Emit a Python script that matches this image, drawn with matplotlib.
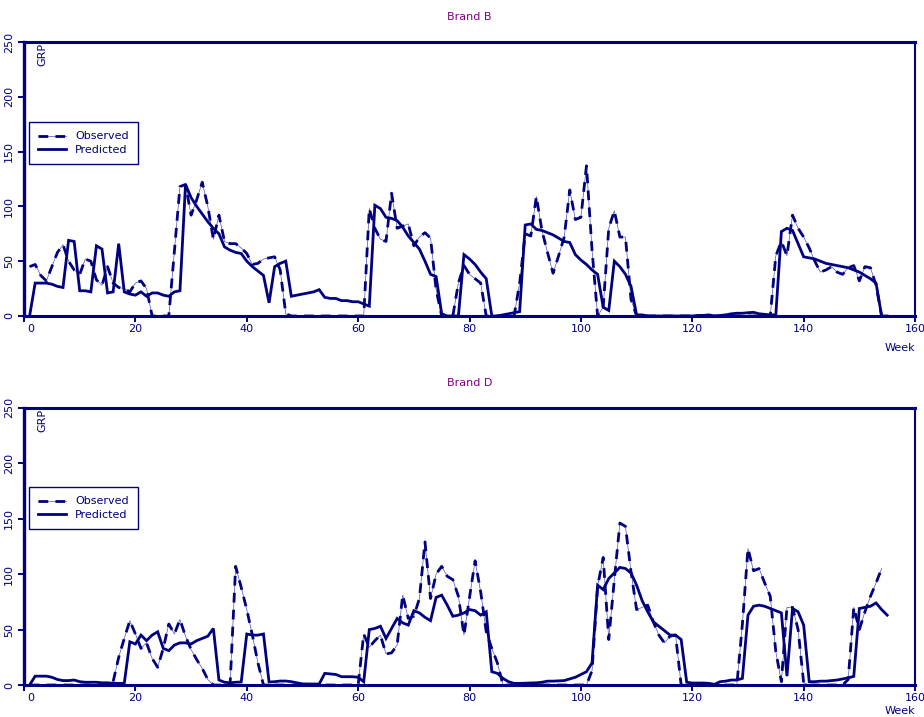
import numpy as np
import matplotlib
matplotlib.use("Agg")
import matplotlib.pyplot as plt
import matplotlib.transforms as mtransforms
from matplotlib.lines import Line2D

# ── Data: weekly GRP, weeks 1..155 ─────────────────────────────────────────
weeks = list(range(1, 156))
nan = float("nan")

brand_b_pred = [
    0, 30, 30, 30, 29, 27, 26, 69, 68, 23,
    23, 22, 64, 61, 21, 22, 66, 22, 20, 19,
    22, 18, 21, 21, 19, 18, 22, 23, 120, 108,
    100, 93, 86, 80, 75, 63, 60, 58, 57, 50,
    45, 41, 37, 12, 45, 48, 50, 18, 19, 20,
    21, 22, 24, 17, 16, 16, 14, 14, 13, 13,
    11, 9, 101, 98, 90, 89, 87, 81, 73, 67,
    61, 50, 38, 36, 2, 0, 0, 0, 56, 52,
    47, 40, 34, 0, 0, 1, 2, 3, 4, 83,
    84, 79, 78, 76, 74, 71, 68, 67, 56, 51,
    47, 42, 38, 8, 5, 50, 45, 38, 27, 1,
    1, 0, 0, 0, 0, 0, 0, 0, 0, 0,
    0.5, 0.5, 1, 0, 0.5, 1, 2, 2.5, 2.5, 3,
    3.3, 2, 1.5, 1, 1, 77, 80, 78, 66, 54,
    53, 52, 50, 48, 47, 46, 45, 44, 42, 40,
    37, 34, 30, 0, 0,
]
brand_b_obs = [
    45, 47, 37, 32, 45, 58, 65, 50, 42, 38,
    52, 50, 33, 28, 45, 30, 26, 25, 22, 30,
    32, 25, 0, 0, 0, 0, 59, 118, 120, 92,
    106, 122, 100, 70, 92, 68, 66, 66, 62, 57,
    47, 48, 52, 53, 54, 42, 2, 0, 0, 0,
    0, 0, 0, 0, 0, 0, 0, 0, 0, 0,
    0, 98, 80, 70, 68, 112, 80, 82, 84, 64,
    72, 76, 71, 24, 0, 0, 0, 30, 46, 38,
    34, 30, 0, 0, 0, 0, 0, 0, 30, 75,
    73, 109, 78, 58, 39, 55, 72, 115, 88, 90,
    137, 60, 0, 8, 80, 96, 72, 72, 15, 0,
    0, 0, 0, 0, 0, 0, 0, 0, 0, 0,
    0, 0, 0, 0, 0, 0, 0, 0, 0, 0,
    0, 0, 0, 0, 55, 68, 55, 92, 80, 72,
    62, 50, 40, 42, 45, 40, 38, 44, 46, 32,
    45, 44, 28, 0, nan,
]
brand_d_pred = [
    0, 8, 8, 8, 7, 5, 4, 4, 4.5, 3,
    2.5, 2.5, 2.5, 2, 2, 1.5, 1.5, 1.5, 39, 37,
    45, 40, 45, 48, 33, 31, 36, 38, 38, 37,
    40, 42, 44, 51, 4.5, 2.5, 2, 2.5, 2.7, 46,
    45, 45, 46, 2.7, 3, 3.6, 3.6, 3, 2, 1,
    0.9, 0.9, 0.9, 10.5, 10, 9.5, 7.5, 7.5, 7.5, 7,
    3, 50, 51, 53, 42, 51, 60, 56, 54, 67,
    65, 61, 58, 79, 81, 72, 62, 63, 65, 68,
    67, 63, 66, 12, 10.5, 6, 3, 1.5, 1.5, 1.7,
    1.9, 2, 2.5, 3.5, 3.5, 3.8, 4, 5.5, 7, 9.5,
    12, 20, 90, 86, 96, 101, 106, 105, 101, 90,
    76, 66, 57, 53, 49, 45, 45, 41, 2.5, 1.8,
    1.8, 1.8, 1.5, 0.6, 3, 3.5, 4.5, 4.5, 6, 63,
    71, 72, 71, 69, 67, 65, 8, 69, 66, 54,
    3, 3, 3.5, 3.5, 4, 4.5, 5.5, 6.5, 7.8, 69,
    70, 71, 74, 68, 63,
]
brand_d_obs = [
    0, 0, 0, 0, 0, 0, 0, 0, 0, 0,
    0, 0, 0, 0, 0, 3, 25, 42, 58, 46,
    33, 38, 24, 16, 33, 55, 46, 59, 44, 32,
    23, 15, 5, 0, 0, 0, 0, 107, 88, 68,
    45, 20, 0, 0, 0, 0, 0, 0, 0, 0,
    0, 0, 0, 0, 0, 0, 0, 0, 0, 0,
    46, 34, 40, 45, 28, 29, 36, 81, 60, 62,
    78, 129, 78, 100, 107, 98, 95, 80, 45, 79,
    112, 84, 48, 33, 20, 0, 0, 0, 0, 0,
    0, 0, 0, 0, 0, 0, 0, 0, 0, 0,
    0, 13, 89, 115, 41, 95, 146, 143, 102, 68,
    70, 72, 57, 45, 38, 44, 45, 0, 0, 0,
    0, 0, 0, 0, 0, 0, 0, 0, 55, 123,
    103, 105, 92, 80, 30, 3, 70, 70, 50, 2,
    0, 0, 0, 0, 0, 0, 0, 5, 70, 50,
    66, 80, 92, 105, nan,
]

x_ticks = [0, 20, 40, 60, 80, 100, 120, 140, 160]
y_ticks = [0, 50, 100, 150, 200, 250]

NAVY = "#000080"
PURPLE = "#800080"
THIN = "#5050a8"

fig = plt.figure(figsize=(9.24, 7.17), dpi=100)
ax_b = fig.add_axes([0.026, 0.5593, 0.9643, 0.3822])
ax_d = fig.add_axes([0.026, 0.0446, 0.9643, 0.3868])


def draw_panel(ax, title, obs, pred, legend_top, week_off):
    ax.plot(weeks, obs, color=THIN, lw=0.5)
    ax.plot(weeks, obs, color=NAVY, lw=2.0, dashes=(3.5, 2.6),
            solid_capstyle="butt", dash_capstyle="butt")
    ax.plot(weeks, pred, color=NAVY, lw=2.0, solid_joinstyle="miter")

    ax.set_xlim(0, 160)
    ax.set_ylim(0, 250)
    ax.set_xticks(x_ticks)
    ax.set_yticks(y_ticks)
    ax.tick_params(axis="both", direction="out", length=4, width=1.4,
                   color=NAVY, labelcolor=NAVY, labelsize=8)
    ax.tick_params(axis="x", pad=2)
    ax.tick_params(axis="y", pad=3)
    for lab in ax.get_yticklabels():
        lab.set_rotation(90)
        lab.set_va("center")
    # first x label sits a bit right of its tick, as in the original
    shift = mtransforms.ScaledTranslation(5 / 72, 0, fig.dpi_scale_trans)
    first = ax.get_xticklabels()[0]
    first.set_transform(first.get_transform() + shift)

    for side, w in (("left", 2.4), ("top", 2.2), ("bottom", 2.2), ("right", 1.5)):
        ax.spines[side].set_color(NAVY)
        ax.spines[side].set_linewidth(w)

    ax.text(0.021, 0.995, "GRP", rotation=90, ha="center", va="top",
            transform=ax.transAxes, color=NAVY, fontsize=8)
    ax.annotate("Week", xy=(1, 0), xycoords="axes fraction",
                xytext=(0, week_off), textcoords="offset points",
                ha="right", va="center", color=NAVY, fontsize=8)
    ax.annotate(title, xy=(0.5, 1), xycoords="axes fraction",
                xytext=(0, 18), textcoords="offset points",
                ha="center", va="center", color=PURPLE, fontsize=8)

    h_obs = (Line2D([], [], color=THIN, lw=0.5),
             Line2D([], [], color=NAVY, lw=2.0, dashes=(3.5, 2.6)))
    h_pred = Line2D([], [], color=NAVY, lw=2.0)
    leg = ax.legend([h_obs, h_pred], ["Observed", "Predicted"],
                    loc="upper left", bbox_to_anchor=(0.0056, legend_top),
                    borderaxespad=0, fontsize=8, handlelength=2.5,
                    labelspacing=0.3, handletextpad=0.8, borderpad=0.85,
                    fancybox=False, framealpha=1)
    leg.get_frame().set_edgecolor(NAVY)
    leg.get_frame().set_linewidth(1.0)
    for t in leg.get_texts():
        t.set_color(NAVY)


draw_panel(ax_b, "Brand B", brand_b_obs, brand_b_pred, 0.708, -23)
draw_panel(ax_d, "Brand D", brand_d_obs, brand_d_pred, 0.714, -19)

fig.savefig("out.png", dpi=100)
